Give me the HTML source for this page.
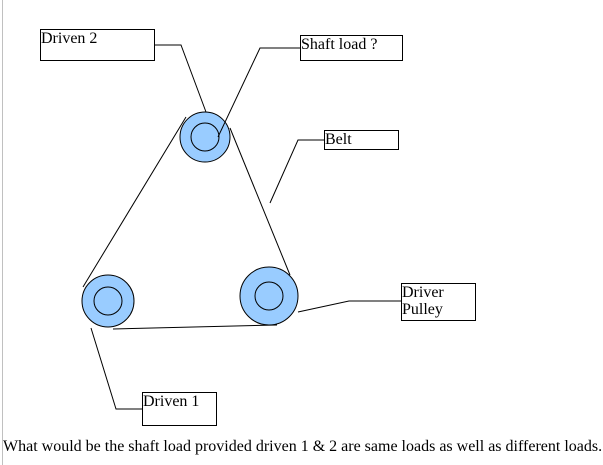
<!DOCTYPE html>
<html><head><style>
body{margin:0;width:603px;height:465px;background:#fff;overflow:hidden;position:relative;font-family:"Liberation Serif",serif;}
.b{position:absolute;border:1px solid #000;background:#fff;font-size:16px;line-height:17px;box-sizing:border-box;padding-left:0;}
</style></head><body>
<div style="position:absolute;left:2px;top:0;width:1px;height:465px;background:#c0c0c0"></div>
<svg width="603" height="465" style="position:absolute;left:0;top:0" fill="none" stroke="#000" stroke-width="1">
<circle cx="205" cy="137" r="25" fill="#99ccff"/>
<circle cx="205" cy="137" r="14"/>
<circle cx="108" cy="301" r="26" fill="#99ccff"/>
<circle cx="108" cy="301" r="14"/>
<circle cx="269" cy="296" r="29" fill="#99ccff"/>
<circle cx="269" cy="296" r="14"/>
<line x1="186" y1="117" x2="83" y2="287"/>
<line x1="230" y1="128" x2="290" y2="275"/>
<line x1="113" y1="329" x2="277" y2="325"/>
<polyline points="154,45 181,45 206,112"/>
<polyline points="300,48 260,48 218,137"/>
<polyline points="324,140 298,140 270,203"/>
<polyline points="298,312 349,301 401,301"/>
<polyline points="91,328 116,409 142,409"/>
</svg>
<div class="b" style="left:40px;top:29px;width:115px;height:32px">Driven 2</div>
<div class="b" style="left:300px;top:35px;width:103px;height:26px">Shaft load ?</div>
<div class="b" style="left:324px;top:130px;width:75px;height:20px">Belt</div>
<div class="b" style="left:401px;top:283px;width:75px;height:38px">Driver<br>Pulley</div>
<div class="b" style="left:142px;top:392px;width:75px;height:34px">Driven 1</div>
<div style="position:absolute;left:3px;top:438px;font-size:16px;white-space:nowrap;line-height:17px">What would be the shaft load provided driven 1 &amp; 2 are same loads as well as different loads.</div>
</body></html>
